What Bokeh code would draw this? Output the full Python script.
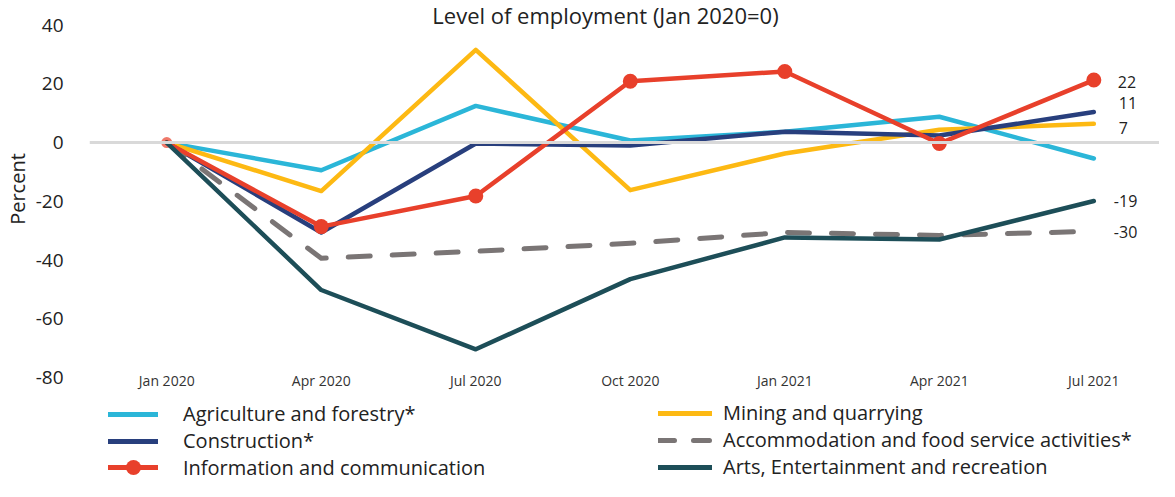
from bokeh.plotting import figure
from bokeh.layouts import column
from bokeh.models import ColumnDataSource, Legend, LegendItem, Span, FixedTicker, Label
from bokeh.core.properties import value
from bokeh.embed import file_html
from bokeh.resources import INLINE

months = ["Jan 2020", "Apr 2020", "Jul 2020", "Oct 2020", "Jan 2021", "Apr 2021", "Jul 2021"]
agriculture = [0, -9.4, 12.5, 0.7, 3.7, 8.8, -5.4]
mining = [0, -16.5, 31.6, -16.2, -3.7, 4.4, 6.4]
construction = [0, -30.6, -0.3, -1.0, 3.7, 2.4, 10.4]
accommodation = [0, -39.4, -37.0, -34.3, -30.6, -31.6, -30.2]
information = [0, -28.6, -18.2, 20.9, 24.2, -0.3, 21.3]
arts = [0, -50.2, -70.4, -46.5, -32.3, -33.0, -19.9]
end_labels = ["22", "11", "7", "-19", "-30"]
y_ticks = [40, 20, 0, -20, -40, -60, -80]
y_tick_labels = ["40", "20", "0", "-20", "-40", "-60", "-80"]

FONT = "Open Sans"
C_AGR = "#2bb6d8"
C_MIN = "#fdb913"
C_CON = "#283f7d"
C_ACC = "#7a7575"
C_INF = "#e8402b"
C_ART = "#1d4e58"
TXT = "#222222"

W = 1159
x = list(range(len(months)))

p = figure(width=W, height=392, output_backend="svg", toolbar_location=None,
           x_range=(-0.5, 6.425), y_range=(-80, 48.4),
           min_border_left=88, min_border_right=0, min_border_top=0, min_border_bottom=11)
p.outline_line_color = None
p.xgrid.visible = False
p.ygrid.visible = False

p.add_layout(Span(location=0, dimension="width", line_color="#d9d9d9", line_width=3))

lw = 4.5
r_agr = p.line(x, agriculture, line_color=C_AGR, line_width=lw, line_cap="round", line_join="round")
r_min = p.line(x, mining, line_color=C_MIN, line_width=lw, line_cap="round", line_join="round")
r_con = p.line(x, construction, line_color=C_CON, line_width=lw, line_cap="round", line_join="round")
r_acc = p.line(x, accommodation, line_color=C_ACC, line_width=5, line_dash="22 22",
               line_cap="round", line_join="round")
p.scatter([x[0]], [information[0]], size=11, fill_color=C_INF, line_color=None, fill_alpha=0.7)
r_inf = p.line(x, information, line_color=C_INF, line_width=lw, line_cap="round", line_join="round")
p.scatter(x[1:], information[1:], size=15, fill_color=C_INF, line_color=None)
r_art = p.line(x, arts, line_color=C_ART, line_width=lw, line_cap="round", line_join="round")

# end-of-line labels
ends = [information[-1], construction[-1], mining[-1], arts[-1], accommodation[-1]]
xoffs = [24, 25, 25, 20, 20]
yoffs = [2, -9, 4, 0, 1]
lab_src = ColumnDataSource(dict(x=[x[-1]] * 5, y=ends, t=end_labels, xo=xoffs, yo=yoffs))
p.text(x="x", y="y", text="t", x_offset="xo", y_offset="yo", source=lab_src,
       text_font=value(FONT), text_font_size="16px", text_color=TXT,
       text_baseline="middle", text_align="left")

# title
p.add_layout(Label(x=516, y=363, x_units="screen", y_units="screen",
                   text="Level of employment (Jan 2020=0)", text_font=FONT,
                   text_font_size="22px", text_color=TXT, text_align="center",
                   text_baseline="middle"))

# axes
p.yaxis.ticker = FixedTicker(ticks=y_ticks)
p.yaxis.major_label_overrides = {t: s for t, s in zip(y_ticks, y_tick_labels)}
p.yaxis.axis_line_color = None
p.yaxis.major_tick_line_color = None
p.yaxis.minor_tick_line_color = None
p.yaxis.major_label_text_font = FONT
p.yaxis.major_label_text_font_size = "19px"
p.yaxis.major_label_text_color = TXT
p.yaxis.major_label_standoff = 20
p.yaxis.axis_label = "Percent"
p.yaxis.axis_label_text_font = FONT
p.yaxis.axis_label_text_font_size = "20px"
p.yaxis.axis_label_text_font_style = "normal"
p.yaxis.axis_label_text_color = TXT
p.yaxis.axis_label_standoff = 2

p.xaxis.ticker = FixedTicker(ticks=x)
p.xaxis.major_label_overrides = {i: m for i, m in zip(x, months)}
p.xaxis.axis_line_color = None
p.xaxis.major_tick_line_color = None
p.xaxis.minor_tick_line_color = None
p.xaxis.major_label_text_font = FONT
p.xaxis.major_label_text_font_size = "14px"
p.xaxis.major_label_text_color = "#333333"
p.xaxis.major_label_standoff = -13

# legend figure (frame aligned with the chart's frame by the column layout)
lf = figure(width=W, height=89, output_backend="svg", toolbar_location=None,
            x_range=(1000, 1001), y_range=(1000, 1001), x_axis_type=None, y_axis_type=None,
            min_border=0, min_border_left=88)
lf.outline_line_color = None
lf.xgrid.visible = False
lf.ygrid.visible = False
d_agr = lf.line(x, agriculture, line_color=C_AGR, line_width=5, line_cap="round")
d_min = lf.line(x, mining, line_color=C_MIN, line_width=5, line_cap="round")
d_con = lf.line(x, construction, line_color=C_CON, line_width=5, line_cap="round")
d_acc = lf.line(x, accommodation, line_color=C_ACC, line_width=5, line_dash="16 19", line_cap="round")
d_inf = lf.line(x, information, line_color=C_INF, line_width=5, line_cap="round")
d_infm = lf.scatter(x, information, size=15, fill_color=C_INF, line_color=None)
d_art = lf.line(x, arts, line_color=C_ART, line_width=5, line_cap="round")

common = dict(border_line_color=None, background_fill_alpha=0, margin=0, padding=0,
              label_text_font=FONT, label_text_font_size="20px", label_text_color=TXT,
              label_height=20, spacing=0)
leg1a = Legend(items=[LegendItem(label="Agriculture and forestry*", renderers=[d_agr]),
                      LegendItem(label="Construction*", renderers=[d_con])],
               location=(19, 27), glyph_width=50, glyph_height=20, label_standoff=25, **common)
leg1b = Legend(items=[LegendItem(label="Information and communication", renderers=[d_inf, d_infm])],
               location=(19, -5), glyph_width=50, glyph_height=38, label_standoff=25, **common)
leg2 = Legend(items=[LegendItem(label="Mining and quarrying", renderers=[d_min]),
                     LegendItem(label="Accommodation and food service activities*", renderers=[d_acc]),
                     LegendItem(label="Arts, Entertainment and recreation", renderers=[d_art])],
              location=(569, 1), glyph_width=54, glyph_height=20, label_standoff=11, **common)
lf.add_layout(leg1a, "center")
lf.add_layout(leg1b, "center")
lf.add_layout(leg2, "center")

layout = column(p, lf, spacing=0)
open("out.html", "w").write(file_html(layout, INLINE))
